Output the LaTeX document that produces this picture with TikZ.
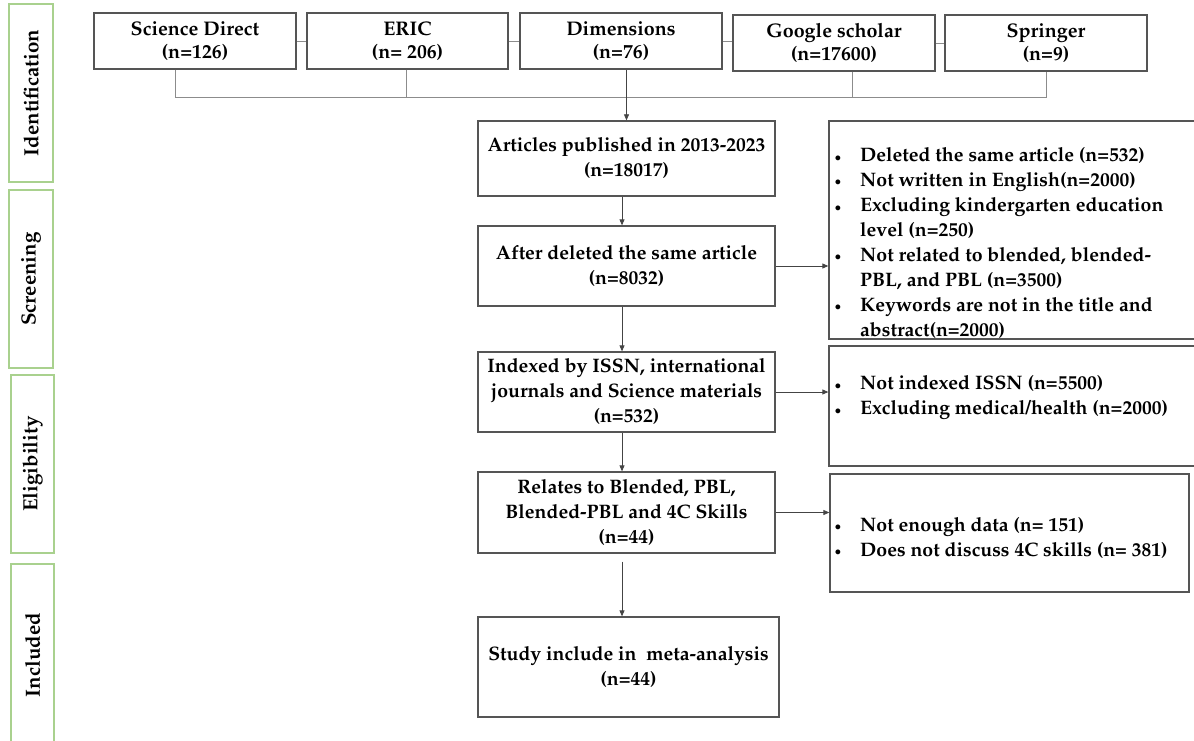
\documentclass[tikz,border=0pt]{standalone}
\usepackage[T1]{fontenc}
\usepackage{mathpazo}
\usetikzlibrary{arrows.meta}
\definecolor{boxgray}{HTML}{555555}
\definecolor{linegray}{HTML}{8C8C8C}
\definecolor{arrgray}{HTML}{444444}
\definecolor{stagegreen}{HTML}{A9D18E}
\newcommand{\bul}{\makebox[23pt][l]{\hspace{-2.5pt}\raisebox{0.5pt}{\fontsize{12}{12}\selectfont$\bullet$}}}
\tikzset{
  txt/.style={font=\fontsize{19.5}{25}\selectfont\bfseries},
  box/.style={draw=boxgray, line width=1.3pt, inner sep=0pt, align=center, txt},
  topbox/.style={box, font=\fontsize{19.7}{23.5}\selectfont\bfseries},
  stage/.style={draw=stagegreen, line width=1.3pt, inner sep=0pt, rotate=90, font=\fontsize{20.5}{25}\selectfont\bfseries},
  listtxt/.style={txt, inner sep=0pt, anchor=base west},
  link/.style={draw=linegray, line width=0.9pt},
  arr/.style={draw=arrgray, line width=0.8pt, -{Triangle[length=6pt,width=5pt]}}
}
\begin{document}
\begin{tikzpicture}[x=1pt,y=-1pt]
\useasboundingbox (0,0) rectangle (1194,741);
\clip (0,0) rectangle (1194,741);
% stage labels
\node[stage, minimum width=178pt, minimum height=44pt] (s1) at (31,93) {Identification};
\node[stage, minimum width=178pt, minimum height=44pt] (s2) at (31,279) {Screening};
\node[stage, minimum width=178pt, minimum height=43pt] (s3) at (32.5,464) {Eligibility};
\node[stage, minimum width=182pt, minimum height=43pt] (s4) at (32.5,655) {Included};
% database boxes
\node[topbox, minimum width=202pt, minimum height=56pt] (sd) at (195,41) {Science Direct\\(n=126)};
\node[topbox, minimum width=201pt, minimum height=56pt] (eric) at (407.5,41) {ERIC\\(n= 206)};
\node[topbox, minimum width=202pt, minimum height=56pt] (dim) at (621,41) {Dimensions\\(n=76)};
\node[topbox, minimum width=202pt, minimum height=56pt] (goo) at (834,43) {Google scholar\\(n=17600)};
\node[topbox, minimum width=202pt, minimum height=56pt] (spr) at (1046,43) {Springer\\(n=9)};
% links between database boxes
\draw[link] (sd.east) -- (eric.west);
\draw[link] (eric.east) -- (dim.west);
\draw[link] (dim.east) -- (dim.east -| goo.west);
\draw[link] (goo.east) -- (spr.west);
% main column
\node[box, minimum width=297pt, minimum height=75pt] (art) at (626.5,158.5) {Articles published in 2013-2023\\(n=18017)};
\node[box, minimum width=297pt, minimum height=80pt] (aft) at (626.5,266) {After deleted the same article\\(n=8032)};
\node[box, minimum width=297pt, minimum height=80pt] (idx) at (626.5,392) {Indexed by ISSN, international\\journals and Science materials\\(n=532)};
\node[box, minimum width=297pt, minimum height=81pt] (rel) at (626.5,512.5) {Relates to Blended, PBL,\\Blended-PBL and 4C Skills\\(n=44)};
\node[box, minimum width=301pt, minimum height=100pt] (stu) at (628.5,667) {Study include in\ \ meta-analysis\\(n=44)};
% bracket
\coordinate (b1) at (175,97);
\coordinate (b2) at (406,97);
\coordinate (b4) at (852,97);
\coordinate (b5) at (1046,97);
\draw[link] (sd.south -| b1) -- (b1) -- (b5) -- (spr.south -| b5);
\draw[link] (eric.south -| b2) -- (b2);
\draw[link] (goo.south -| b4) -- (b4);
\draw[arr] (dim.south -| art.north) -- (art.north);
% column arrows
\coordinate (cx) at (622,0);
\draw[arr] (art.south -| cx) -- (aft.north -| cx);
\draw[arr] (aft.south -| cx) -- (idx.north -| cx);
\draw[arr] (idx.south -| cx) -- (rel.north -| cx);
\draw[arr, shorten <=8pt] (rel.south -| cx) -- (stu.north -| cx);
% exclusion boxes
\node[draw=boxgray, line width=1.3pt, minimum width=371pt, minimum height=218pt] (ex1) at (1014.5,230) {};
\node[draw=boxgray, line width=1.3pt, minimum width=371pt, minimum height=120pt] (ex2) at (1014.5,406) {};
\node[draw=boxgray, line width=1.3pt, minimum width=359pt, minimum height=118pt] (ex3) at (1009.5,533) {};
\node[listtxt] (ex1t) at (837,161.5) {\begin{tabular}[t]{@{}l@{}l@{}}
\bul & Deleted the same article (n=532)\\
\bul & Not written in English(n=2000)\\
\bul & Excluding kindergarten education\\
 & level (n=250)\\
\bul & Not related to blended, blended-\\
 & PBL, and PBL (n=3500)\\
\bul & Keywords are not in the title and\\
 & abstract(n=2000)
\end{tabular}};
\node[listtxt] (ex2t) at (837,389.5) {\begin{tabular}[t]{@{}l@{}l@{}}
\bul & Not indexed ISSN (n=5500)\\
\bul & Excluding medical/health (n=2000)
\end{tabular}};
\node[listtxt] (ex3t) at (837,531) {\begin{tabular}[t]{@{}l@{}l@{}}
\bul & Not enough data (n= 151)\\
\bul & Does not discuss 4C skills (n= 381)
\end{tabular}};
\draw[arr] (aft.east) -- (aft.east -| ex1.west);
\draw[arr] (idx.east) -- (idx.east -| ex2.west);
\draw[arr] (rel.east) -- (rel.east -| ex3.west);
\end{tikzpicture}
\end{document}
